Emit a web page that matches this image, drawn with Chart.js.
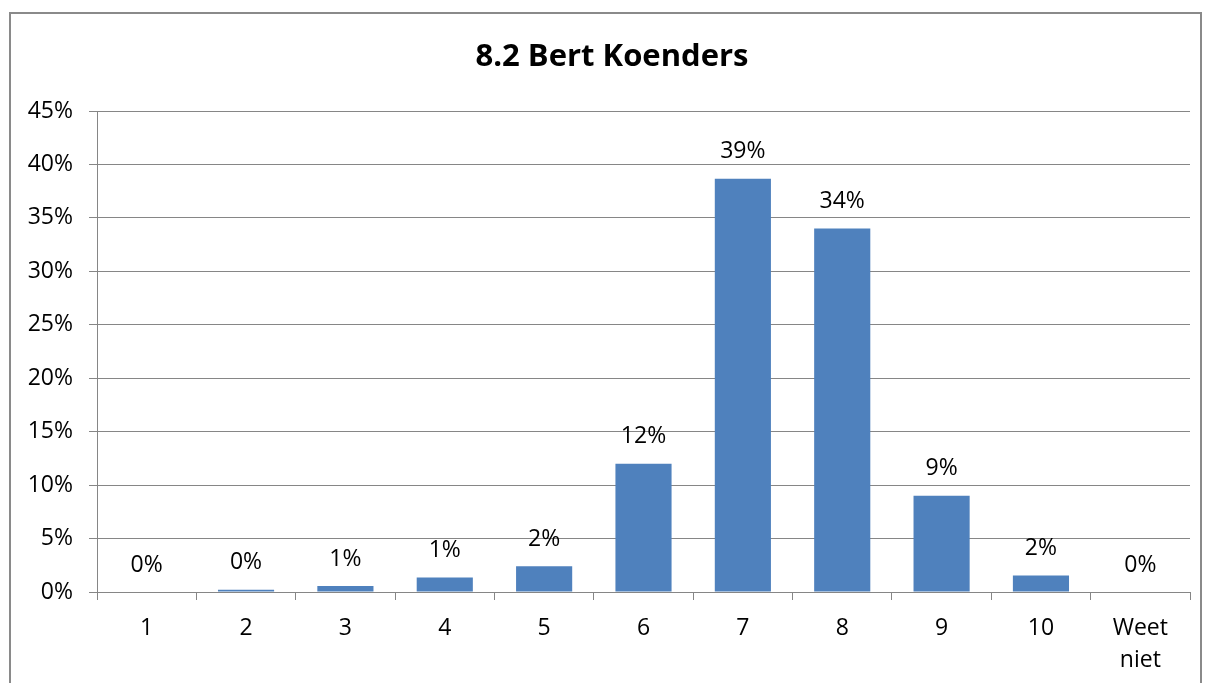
<!DOCTYPE html>
<html>
<head>
<meta charset="utf-8">
<script src="https://cdn.jsdelivr.net/npm/chart.js@4.4.1/dist/chart.umd.min.js"></script>
<style>
  body { margin: 0; background: #fff; overflow: hidden; }
  #frame { position: absolute; left: 9px; top: 12px; width: 1189px; height: 700px; border: 2px solid #8a8a8a; }
  #myChart { position: absolute; left: 0; top: 0; }
</style>
</head>
<body>
<div id="frame"></div>
<canvas id="myChart" width="1207" height="683"></canvas>
<script>
// data (percent)
var categories = ["1", "2", "3", "4", "5", "6", "7", "8", "9", "10", ["Weet", "niet"]];
var values = [0, 0.2, 0.55, 1.35, 2.4, 12.0, 38.65, 34.0, 9.0, 1.55, 0];
var yTicks = [0, 5, 10, 15, 20, 25, 30, 35, 40, 45];
var titleText = "8.2 Bert Koenders";

var fontFam = "'Open Sans', 'Liberation Sans', sans-serif";
var gridColor = "#868686";

// title + value labels above bars
var labelPlugin = {
  id: "labels",
  afterDatasetsDraw(chart) {
    var ctx = chart.ctx;
    ctx.save();
    ctx.fillStyle = "#000";
    ctx.textAlign = "center";
    ctx.textBaseline = "middle";
    ctx.font = "bold 31px " + fontFam;
    ctx.fillText(titleText, 612, 57);
    ctx.font = "23px " + fontFam;
    var meta = chart.getDatasetMeta(0);
    meta.data.forEach((bar, i) => {
      ctx.fillText(Math.round(values[i]) + "%", bar.x, bar.y - 27);
    });
    ctx.restore();
  }
};

new Chart(document.getElementById("myChart"), {
  type: "bar",
  data: {
    labels: categories,
    datasets: [{
      data: values,
      backgroundColor: "#4F81BD",
      categoryPercentage: 1,
      barPercentage: 0.565
    }]
  },
  options: {
    responsive: false,
    animation: false,
    layout: { padding: { top: 111, left: 0, right: 17, bottom: 0 } },
    plugins: {
      legend: { display: false },
      title: { display: false },
      tooltip: { enabled: false }
    },
    scales: {
      x: {
        grid: { drawOnChartArea: false, drawTicks: true, tickLength: 8, color: gridColor },
        border: { color: gridColor },
        ticks: { color: "#000", font: { family: fontFam, size: 23, lineHeight: 1.4 }, padding: 12, maxRotation: 0 },
        afterFit(scale) {
          scale.height = 91;
          scale.paddingLeft = 0;
          scale.paddingRight = 0;
        }
      },
      y: {
        min: 0,
        max: 45,
        afterBuildTicks(scale) {
          scale.ticks = yTicks.map(v => ({ value: v }));
        },
        grid: { color: gridColor, tickLength: 8 },
        border: { color: gridColor },
        ticks: {
          color: "#000",
          font: { family: fontFam, size: 23 },
          padding: 16,
          callback: v => v + "%"
        },
        afterFit(scale) {
          scale.width = 97;
          scale.paddingTop = 0;
          scale.paddingBottom = 0;
        }
      }
    }
  },
  plugins: [labelPlugin]
});
</script>
</body>
</html>
